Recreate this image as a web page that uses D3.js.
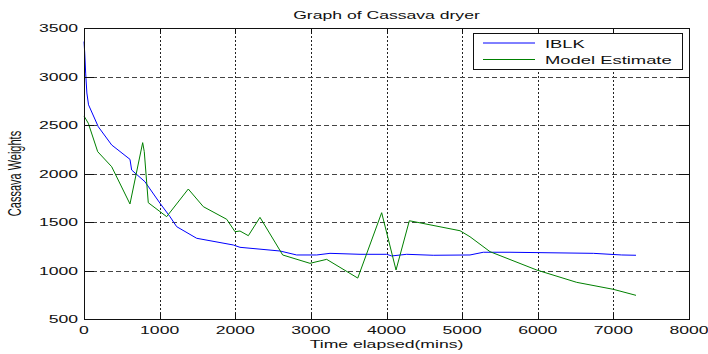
<!DOCTYPE html>
<html>
<head>
<meta charset="utf-8">
<script src="https://cdn.jsdelivr.net/npm/d3@7"></script>
<style>
  html, body { margin: 0; padding: 0; background: #fff; }
  svg { display: block; }
  text { font-family: "Liberation Sans", Arial, sans-serif; fill: #111; }
</style>
</head>
<body>
<svg id="chart"></svg>
<script>
const W = 708, H = 354;
const M = { top: 28, right: 19, bottom: 35, left: 84 };
const SX = 1.6;   // the picture is stretched sideways, text with it

const X_TICKS = [0, 1000, 2000, 3000, 4000, 5000, 6000, 7000, 8000];
const Y_TICKS = [500, 1000, 1500, 2000, 2500, 3000, 3500];

const SERIES_NAMES = ['IBLK', 'Model Estimate'];
const SERIES_COLORS = ['#0000ff', '#008000'];

// time (mins), weight
const IBLK = [
  [0, 3360], [10, 3240], [22, 3035], [38, 2830], [60, 2708], [189, 2482],
  [366, 2294], [608, 2146], [630, 2036], [806, 1915], [1005, 1693],
  [1137, 1555], [1225, 1452], [1490, 1332], [1975, 1263], [2063, 1239],
  [2592, 1201], [2812, 1160], [3077, 1160], [3253, 1177], [3650, 1167],
  [4003, 1167], [4068, 1150], [4267, 1167], [4618, 1157], [5104, 1160],
  [5280, 1188], [5633, 1188], [6735, 1177], [7110, 1160], [7299, 1157],
];

const MODEL = [
  [0, 2593], [57, 2518], [181, 2225], [366, 2070], [608, 1686], [776, 2318],
  [797, 2225], [850, 1699], [1093, 1555], [1379, 1840], [1578, 1658],
  [1887, 1528], [1997, 1400], [2063, 1407], [2173, 1359], [2327, 1548],
  [2548, 1263], [2627, 1160], [2988, 1074], [3209, 1115], [3620, 922],
  [3936, 1596], [4126, 1005], [4302, 1513], [4972, 1410], [5104, 1348],
  [5369, 1194], [5986, 1005], [6515, 878], [6999, 806], [7299, 744],
];

const svg = d3.select('#chart').attr('width', W).attr('height', H);

const x = d3.scaleLinear().domain([0, 8000]).range([M.left, W - M.right]);
const y = d3.scaleLinear().domain([500, 3500]).range([H - M.bottom, M.top]);

const x0 = x.range()[0], x1 = x.range()[1];
const y0 = y.range()[0], y1 = y.range()[1];

// stretched text helper
function label(px, py, str, anchor, size, rot) {
  return svg.append('text')
    .attr('transform', `translate(${px},${py}) scale(${SX},1)` + (rot ? ` rotate(${rot})` : ''))
    .attr('text-anchor', anchor)
    .attr('font-size', size)
    .text(str);
}

// Grid
svg.append('g').selectAll('line')
  .data(X_TICKS.slice(1, -1))
  .join('line')
  .attr('x1', d => Math.round(x(d)) + 0.5).attr('x2', d => Math.round(x(d)) + 0.5)
  .attr('y1', y1).attr('y2', y0)
  .attr('stroke', '#222').attr('stroke-dasharray', '2,2');

svg.append('g').selectAll('line')
  .data(Y_TICKS.slice(1, -1))
  .join('line')
  .attr('y1', d => Math.round(y(d)) + 0.5).attr('y2', d => Math.round(y(d)) + 0.5)
  .attr('x1', x0).attr('x2', x1)
  .attr('stroke', '#444').attr('stroke-dasharray', '5,3');

// Lines
const line = d3.line().x(d => x(d[0])).y(d => y(d[1]));
[IBLK, MODEL].forEach((s, i) => {
  svg.append('path')
    .attr('d', line(s))
    .attr('fill', 'none')
    .attr('stroke', SERIES_COLORS[i])
    .attr('stroke-width', 1);
});

// Axes box + inward ticks
const box = svg.append('g').attr('stroke', '#111').attr('fill', 'none');
box.append('rect')
  .attr('x', x0 + 0.5).attr('y', y1 + 0.5)
  .attr('width', x1 - x0).attr('height', y0 - y1);

X_TICKS.forEach(d => {
  const px = Math.round(x(d)) + 0.5;
  box.append('line').attr('x1', px).attr('x2', px).attr('y1', y0).attr('y2', y0 - 6);
  box.append('line').attr('x1', px).attr('x2', px).attr('y1', y1).attr('y2', y1 + 6);
});
Y_TICKS.forEach(d => {
  const py = Math.round(y(d)) + 0.5;
  box.append('line').attr('y1', py).attr('y2', py).attr('x1', x0).attr('x2', x0 + 10);
  box.append('line').attr('y1', py).attr('y2', py).attr('x1', x1).attr('x2', x1 - 10);
});

// Tick labels
X_TICKS.forEach(d => label(x(d), y0 + 15, d, 'middle', 11));
Y_TICKS.forEach(d => label(x0 - 6, y(d) + 4, d, 'end', 11));

// Titles
label((x0 + x1) / 2, 19, 'Graph of Cassava dryer', 'middle', 11);
label((x0 + x1) / 2, 348, 'Time elapsed(mins)', 'middle', 11);
label(21, (y0 + y1) / 2, 'Cassava Weights', 'middle', 11, -90);

// Legend
const LEG = { x: 473, y: 33, w: 209, h: 36 };
svg.append('rect')
  .attr('x', LEG.x + 0.5).attr('y', LEG.y + 0.5)
  .attr('width', LEG.w).attr('height', LEG.h)
  .attr('fill', '#fff').attr('stroke', '#111');

SERIES_NAMES.forEach((name, i) => {
  const ly = LEG.y + 10 + i * 16.5;
  svg.append('line')
    .attr('x1', LEG.x + 10).attr('x2', LEG.x + 62)
    .attr('y1', ly).attr('y2', ly)
    .attr('stroke', SERIES_COLORS[i]);
  label(LEG.x + 72, ly + 4.5, name, 'start', 11.5);
});
</script>
</body>
</html>
